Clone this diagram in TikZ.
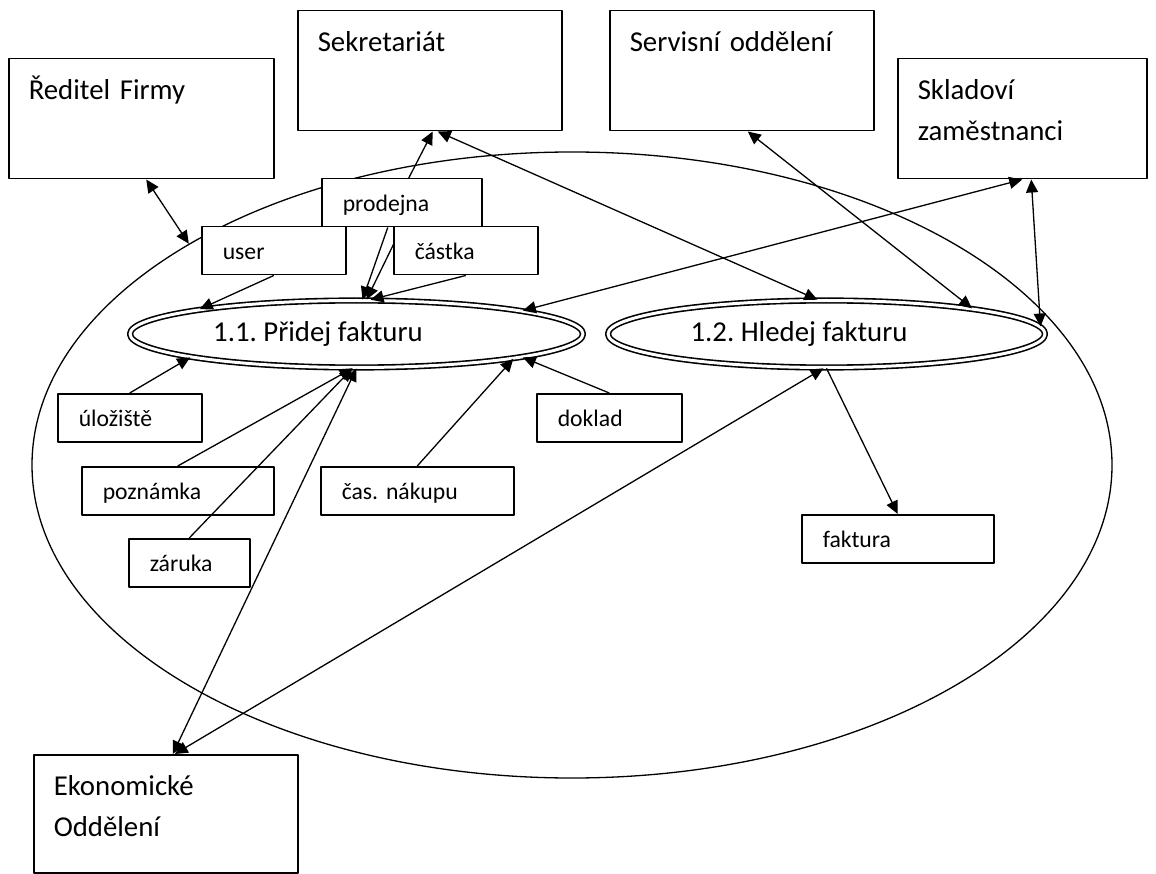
\documentclass[tikz,border=0pt]{standalone}
\usepackage{fontspec}
\setmainfont{Carlito}
\frenchspacing
\usetikzlibrary{arrows.meta,shapes.geometric}
\tikzset{
  bigbox/.style={draw, fill=white, line width=1.5pt, anchor=north west, align=left,
    inner xsep=20pt, inner ysep=0pt, text height=41pt, text depth=79pt,
    font=\fontsize{28.8}{40.4}\selectfont},
  smallbox/.style={draw, fill=white, line width=1.5pt, anchor=north west, align=left,
    inner xsep=21pt, inner ysep=0pt, text height=32.5pt, text depth=15.5pt,
    font=\fontsize{23.7}{28}\selectfont},
  usecase/.style={ellipse, draw, double, double distance=3pt, line width=1.6pt,
    fill=white, inner sep=0pt, minimum height=67pt, font=\fontsize{28.8}{34}\selectfont},
  link/.style={line width=1.3pt}
}
\begin{document}
\begin{tikzpicture}[x=1pt, y=-1pt, >={Triangle[length=13pt,width=12pt]}, line join=round]
  \fill[white] (0,0) rectangle (1156,874);
  \useasboundingbox (0,0) rectangle (1156,874);
  % hranice systemu
  \node[ellipse, draw, line width=1.3pt, minimum width=1080pt, minimum height=626pt, inner sep=0pt] (system) at (572,465) {};
  % aktori
  \node[bigbox, text width=225pt] (red) at (8,58) {Ředitel Firmy};
  \node[bigbox, text width=224pt] (sek) at (297,10) {Sekretariát};
  \node[bigbox, text width=224pt] (serv) at (609,10) {Servisní oddělení};
  \node[bigbox, text width=209pt] (sklad) at (897,58) {Skladoví\\zaměstnanci};
  \node[bigbox, text width=224pt, text depth=77pt] (eko) at (33,754) {Ekonomické\\Oddělení};
  % datove prvky
  \foreach \n/\x/\y/\w/\t in {prod/321/178/160/prodejna, user/201/226/144/user,
      uloz/57/393/144/úložiště, pozn/81/466/192/poznámka, zaruka/128/538/121/záruka,
      cas/320/466/193/čas. nákupu, doklad/536/393/145/doklad, faktura/801/514/192/faktura}
    \node[smallbox, text width=\w-42] (\n) at (\x,\y) {\t};
  % pripady uziti
  \node[usecase, minimum width=453pt] (h1) at (356.5,334) {1.1. Přidej fakturu\hspace*{77pt}};
  \node[usecase, minimum width=437pt] (h2) at (826.5,334) {1.2. Hledej fakturu\hspace*{55pt}};
  \draw[link,->] ([xshift=-14pt]prod.south) -- ([xshift=6pt]h1.north);
  \draw[link,->] (prod.south) -- ([xshift=10pt]h1.north);
  \node[smallbox, text width=102pt] (castka) at (393,226) {částka};
  % vazby
  \draw[link,<->] ([xshift=5pt]red.south) -- (system.150);
  \draw[link,<->] ([xshift=8pt]sek.south) -- ([xshift=-9pt]h2.north);
  \draw[link,<->] ([xshift=6pt]serv.south) -- (h2.10);
  \draw[link,<->] (sklad.south) -- (h1.8);
  \draw[link,<->] ([xshift=9pt]sklad.south) -- (h2.2);
  \draw[link,->] ([xshift=7pt]prod.north) -- ([xshift=3pt]sek.south);
  \draw[link,->] (castka.south) -- ([xshift=14pt]h1.north);
  \draw[link,->] (user.south) -- (h1.171);
  \draw[link,->] (uloz.north) -- (h1.188);
  \draw[link,->] (pozn.north) -- ([xshift=-4pt]h1.south);
  \draw[link,->] (zaruka.north) -- ([xshift=-4pt]h1.south);
  \draw[link,<->] ([xshift=7pt]eko.north) -- (h1.south);
  \draw[link,<->] ([xshift=9pt]eko.north) -- ([xshift=-3pt]h2.south);
  \draw[link,->] (h2.south) -- (faktura.north);
  \draw[link,->] (cas.north) -- (h1.-9);
  \draw[link,->] (doklad.north) -- (h1.-8);
\end{tikzpicture}
\end{document}
